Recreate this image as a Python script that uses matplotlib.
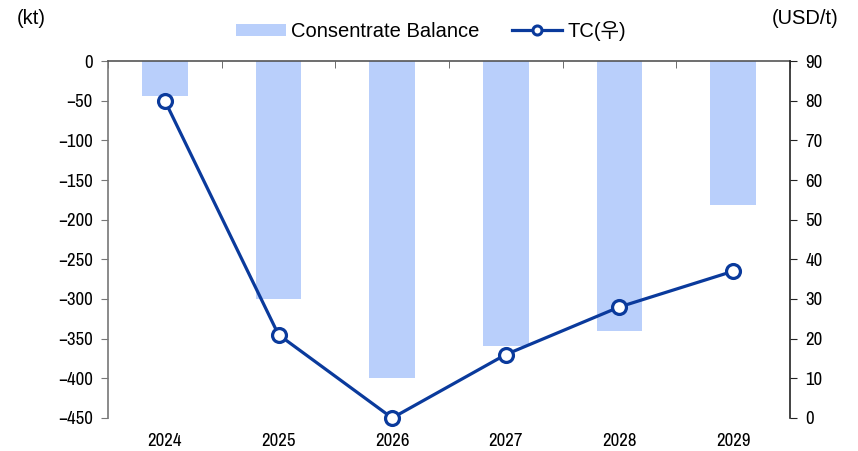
import matplotlib
matplotlib.use("Agg")
import matplotlib.pyplot as plt
from matplotlib import font_manager
from matplotlib.lines import Line2D
import numpy as np

years = ["2024", "2025", "2026", "2027", "2028", "2029"]
balance = [-44, -300, -400, -359, -340, -182]
tc = [80, 21, 0, 16, 28, 37]
left_ticks = [0, -50, -100, -150, -200, -250, -300, -350, -400, -450]
right_ticks = [0, 10, 20, 30, 40, 50, 60, 70, 80, 90]

names = {f.name for f in font_manager.fontManager.ttflist}
narrow = "Liberation Sans"
for cand in ["Liberation Sans Narrow", "Arial Narrow", "Archivo Narrow", "Roboto Condensed",
             "PT Sans Narrow", "Encode Sans Condensed"]:
    if cand in names:
        narrow = cand
        break
plt.rcParams['font.family'] = [narrow, 'Noto Sans CJK KR', 'DejaVu Sans']
plt.rcParams['axes.unicode_minus'] = True
wide = ['Liberation Sans', 'Noto Sans CJK KR', 'DejaVu Sans']

bar_color = "#b9cffb"
line_color = "#0a3a9c"
fs = 13.5
lfs = 14.5

fig = plt.figure(figsize=(8.58, 4.51), dpi=100)
ax = fig.add_axes([0.1259, 0.0732, 0.7948, 0.7915])
x = np.arange(len(years))
bars = ax.bar(x, balance, width=0.4, color=bar_color, zorder=1)
ax.set_ylim(-450, 0)
ax.set_xlim(-0.5, len(years) - 0.5)
ax.set_yticks(left_ticks)
ax.set_yticklabels([str(v).replace("-", "\u2212") for v in left_ticks], fontsize=fs)
ax.set_xticks(x)
ax.set_xticklabels(years, fontsize=fs)
ax.tick_params(axis='x', length=0, pad=11)
ax.set_xticks(np.arange(-0.5, len(years), 1.0), minor=True)
ax.tick_params(axis='x', which='minor', top=True, bottom=False, direction='in', length=5, color='#555555')
ax.tick_params(axis='y', direction='out', length=5, color='#777777', pad=6)
for s in ['bottom', 'right']:
    ax.spines[s].set_visible(False)
ax.spines['left'].set_color('#777777')
ax.spines['top'].set_color('#555555')
ax.spines['left'].set_linewidth(1.2)
ax.spines['top'].set_linewidth(1.2)

ax2 = ax.twinx()
ax2.set_ylim(0, 90)
ax2.set_yticks(right_ticks)
ax2.set_yticklabels([str(v) for v in right_ticks], fontsize=fs)
ax2.plot(x, tc, color=line_color, lw=2.3, marker='o', markersize=10,
         markerfacecolor='white', markeredgecolor=line_color, markeredgewidth=2.3,
         zorder=3, clip_on=False)
for s in ['left', 'top', 'bottom']:
    ax2.spines[s].set_visible(False)
ax2.spines['right'].set_color('#222222')
ax2.spines['right'].set_linewidth(1.2)
ax2.tick_params(axis='y', direction='out', length=5, color='#222222', pad=6)

fig.text(0.036, 0.958, "(kt)", fontsize=lfs, ha='center', va='center', family=wide)
fig.text(0.938, 0.958, "(USD/t)", fontsize=lfs, ha='center', va='center', family=wide)

leg_line = Line2D([], [], color=line_color, lw=2.3, marker='o', markersize=6.5,
                  markerfacecolor='white', markeredgecolor=line_color, markeredgewidth=2.2)
leg = fig.legend([bars, leg_line], ["Consentrate Balance", "TC(우)"], loc='center',
                 bbox_to_anchor=(0.502, 0.931), ncol=2, frameon=False,
                 prop={'family': wide, 'size': lfs},
                 handlelength=2.5, handleheight=0.6, handletextpad=0.25, columnspacing=1.6)

fig.savefig("out.png", dpi=100)
